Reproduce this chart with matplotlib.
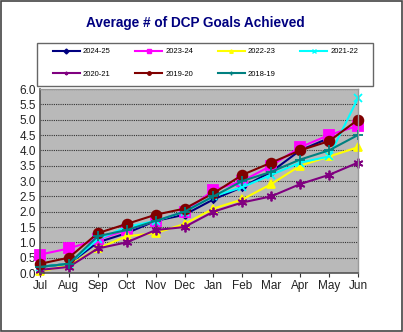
import numpy as np
import matplotlib.pyplot as plt

plt.rcParams['font.family'] = ['Liberation Sans', 'DejaVu Sans']

months = ['Jul', 'Aug', 'Sep', 'Oct', 'Nov', 'Dec', 'Jan', 'Feb', 'Mar', 'Apr', 'May', 'Jun']
seasons = ['2024-25', '2023-24', '2022-23', '2021-22', '2020-21', '2019-20', '2018-19']

# goals achieved per month, one list per season (2024-25 has no June yet)
goals_2024_25 = [0.2, 0.3, 1.0, 1.3, 1.7, 1.9, 2.4, 2.8, 3.3, 4.0, 4.4, None]
goals_2023_24 = [0.6, 0.8, 1.1, 1.4, 1.7, 2.0, 2.7, 3.0, 3.5, 4.1, 4.5, 4.8]
goals_2022_23 = [0.05, 0.25, 0.8, 1.2, 1.3, 1.6, 2.1, 2.4, 2.9, 3.5, 3.8, 4.1]
goals_2021_22 = [0.2, 0.3, 1.1, 1.5, 1.7, 2.0, 2.5, 2.8, 3.2, 3.6, 3.8, 5.7]
goals_2020_21 = [0.1, 0.2, 0.8, 1.0, 1.4, 1.5, 2.0, 2.3, 2.5, 2.9, 3.2, 3.6]
goals_2019_20 = [0.3, 0.5, 1.3, 1.6, 1.9, 2.1, 2.6, 3.2, 3.6, 4.0, 4.3, 5.0]
goals_2018_19 = [0.2, 0.3, 1.2, 1.4, 1.7, 2.0, 2.5, 3.0, 3.3, 3.7, 4.0, 4.5]

all_goals = [goals_2024_25, goals_2023_24, goals_2022_23, goals_2021_22,
             goals_2020_21, goals_2019_20, goals_2018_19]

# excel-ish style per series
colors = ['#000080', '#FF00FF', '#FFFF00', '#00FFFF', '#800080', '#800000', '#008080']
markers = ['D', 's', '^', 'x', (6, 2, 0), 'o', '+']
marker_sizes = [3.5, 7, 6, 6, 7, 7, 7]

fig = plt.figure(figsize=(4.03, 3.32), dpi=100)
ax = fig.add_axes([40 / 403, 1 - 273 / 332, 318 / 403, 184 / 332])
ax.set_facecolor('#b9b9b9')

x = np.arange(len(months))
handles = []
for season, goals, col, mk, ms in zip(seasons, all_goals, colors, markers, marker_sizes):
    y = np.array([np.nan if g is None else g for g in goals], dtype=float)
    line, = ax.plot(x, y, color=col, marker=mk, markersize=ms, markeredgewidth=1.3,
                    linewidth=1.5, clip_on=False, label=season)
    handles.append(line)

ax.set_xlim(0, 11)
ax.set_ylim(0, 6)
ax.set_yticks(np.arange(0, 6.01, 0.5))
ax.set_yticklabels(['%.1f' % v for v in np.arange(0, 6.01, 0.5)])
ax.set_xticks(x)
ax.set_xticklabels(months)
ax.tick_params(axis='both', labelsize=8.5, colors='#333333', labelcolor='#222222')
ax.tick_params(axis='y', length=0, pad=3)
ax.tick_params(axis='x', length=3, direction='out', pad=2)

# dotted gridlines like the old excel look
ax.yaxis.grid(True, color='#333333', linestyle=(0, (1, 1)), linewidth=0.8)
ax.set_axisbelow(True)

for side in ['left', 'bottom']:
    ax.spines[side].set_color('#555555')
    ax.spines[side].set_linewidth(1.2)
for side in ['top', 'right']:
    ax.spines[side].set_color('#999999')
    ax.spines[side].set_linewidth(1.0)

fig.text(195 / 403, 1 - 23 / 332, 'Average # of DCP Goals Achieved', ha='center', va='center',
         fontsize=9.8, fontweight='bold', color='#000080')

# legend box drawn by hand, legend itself sits inside without a frame
fig.patches.append(plt.Rectangle((37 / 403, 1 - 86 / 332), 336 / 403, 43 / 332,
                                 transform=fig.transFigure, fill=False,
                                 edgecolor='#666666', linewidth=1.0))

# legend fills column-first, so reorder to get rows like the original
order = [0, 4, 1, 5, 2, 6, 3]
leg_handles = [plt.Line2D([], [], color=handles[i].get_color(), marker=handles[i].get_marker(),
                          markersize=2.5, linewidth=1.5) for i in order]
leg_labels = [seasons[i] for i in order]
leg = fig.legend(handles=leg_handles, labels=leg_labels, ncol=4, mode='expand',
                 bbox_to_anchor=(53 / 403, 1 - 48 / 332, 305 / 403, 0.0),
                 loc='upper left', fontsize=5.5, handlelength=3.5, handletextpad=0.4,
                 frameon=False, borderaxespad=0, labelspacing=2.0, borderpad=0)

# outer chart border
fig.patches.append(plt.Rectangle((0.002, 0.003), 0.996, 0.994, transform=fig.transFigure,
                                 fill=False, edgecolor='#444444', linewidth=1.2))

fig.savefig('out.png', dpi=100)
